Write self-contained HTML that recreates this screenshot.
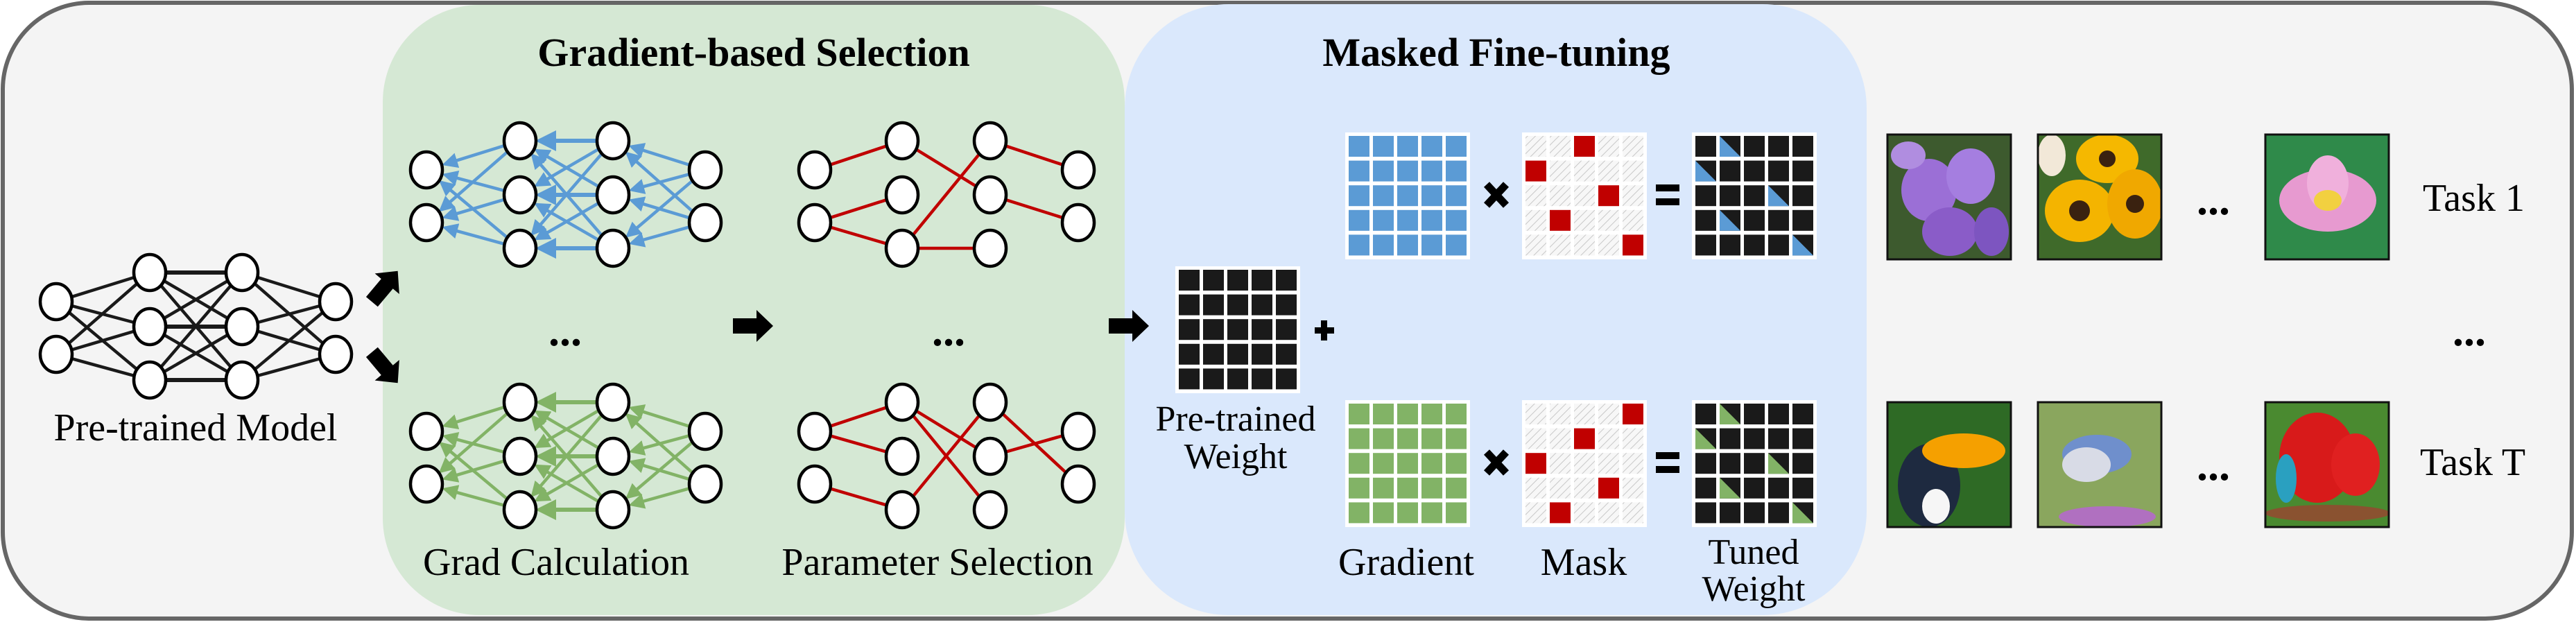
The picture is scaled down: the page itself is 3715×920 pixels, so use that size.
<!DOCTYPE html>
<html><head><meta charset="utf-8"><style>
html,body{margin:0;padding:0;background:#fff}
svg{display:block}
svg text{font-family:"Liberation Serif","Noto Serif CJK SC","DejaVu Serif",serif;fill:#000}
</style></head><body>
<svg id="s" width="3715" height="920" viewBox="0 0 3715 920" xmlns="http://www.w3.org/2000/svg">
<defs>
<pattern id="hatch" width="8" height="8" patternUnits="userSpaceOnUse" patternTransform="rotate(45)">
<rect width="8" height="8" fill="#f7f7f7"/><line x1="0" y1="0" x2="0" y2="8" stroke="#c8c8c8" stroke-width="2"/></pattern>
<marker id="ab" markerWidth="5" markerHeight="5" refX="4" refY="2.5" orient="auto" markerUnits="strokeWidth"><path d="M0,0 L5,2.5 L0,5 z" fill="#5B9BD5"/></marker>
<marker id="ag" markerWidth="5" markerHeight="5" refX="4" refY="2.5" orient="auto" markerUnits="strokeWidth"><path d="M0,0 L5,2.5 L0,5 z" fill="#82B366"/></marker>
</defs>
<rect x="4" y="4" width="3705" height="888" rx="125" fill="#F4F4F4" stroke="#666" stroke-width="6"/>
<rect x="552" y="7" width="1070" height="880" rx="140" fill="#D5E8D4"/>
<rect x="1622" y="6" width="1070" height="881" rx="150" fill="#DAE8FC"/>
<g id="g"></g>
<g>
<text x="1087" y="95" font-size="58" font-weight="bold" text-anchor="middle">Gradient-based Selection</text>
<text x="2158" y="95" font-size="58" font-weight="bold" text-anchor="middle">Masked Fine-tuning</text>
<text x="282" y="635" font-size="56" text-anchor="middle">Pre-trained Model</text>
<text x="802" y="829" font-size="56" text-anchor="middle">Grad Calculation</text>
<text x="1352" y="829" font-size="56" text-anchor="middle">Parameter Selection</text>
<text x="1782" y="621" font-size="52" text-anchor="middle">Pre-trained</text>
<text x="1782" y="675" font-size="52" text-anchor="middle">Weight</text>
<text x="2028" y="829" font-size="56" text-anchor="middle">Gradient</text>
<text x="2284" y="829" font-size="56" text-anchor="middle">Mask</text>
<text x="2529" y="813" font-size="52" text-anchor="middle">Tuned</text>
<text x="2529" y="866" font-size="52" text-anchor="middle">Weight</text>
<text x="3494" y="304" font-size="56">Task 1</text>
<text x="3490" y="685" font-size="56">Task T</text>
<text x="815" y="498" font-size="64" font-weight="bold" text-anchor="middle">...</text>
<text x="1368" y="498" font-size="64" font-weight="bold" text-anchor="middle">...</text>
<text x="3192" y="309" font-size="64" font-weight="bold" text-anchor="middle">...</text>
<text x="3192" y="692" font-size="64" font-weight="bold" text-anchor="middle">...</text>
<text x="3561" y="498" font-size="64" font-weight="bold" text-anchor="middle">...</text>
</g>
</svg>
<script>
var NS="http://www.w3.org/2000/svg",G=document.getElementById("g");
function el(t,a){var e=document.createElementNS(NS,t);for(var k in a)e.setAttribute(k,a[k]);G.appendChild(e);return e;}
function net(xs,yt,type,edges){
 var r1=[yt+42,yt+118],r2=[yt,yt+78,yt+155];
 var L=[r1,r2,r2,r1];
 var nodes=L.map(function(rows,i){return rows.map(function(y){return[xs[i],y];});});
 var col={b:"#5B9BD5",g:"#82B366",k:"#1a1a1a",r:"#C00000"}[type];
 if(type=="r"){edges.forEach(function(e){var a=nodes[e[0]][e[1]],b=nodes[e[0]+1][e[2]];el("line",{x1:a[0],y1:a[1],x2:b[0],y2:b[1],stroke:col,"stroke-width":4.5});});}
 else{for(var i=0;i<3;i++)nodes[i].forEach(function(a){nodes[i+1].forEach(function(b){
  if(type=="k"){el("line",{x1:a[0],y1:a[1],x2:b[0],y2:b[1],stroke:col,"stroke-width":(a[1]==b[1]?6:4.5)});}
  else{var dx=a[0]-b[0],dy=a[1]-b[1],d=Math.sqrt(dx*dx+dy*dy),ux=dx/d,uy=dy/d;
   el("line",{x1:b[0]+ux*24,y1:b[1]+uy*24,x2:a[0]-ux*28,y2:a[1]-uy*28,stroke:col,"stroke-width":(a[1]==b[1]?6:4.5),"marker-end":"url(#a"+type+")"});}
 });});}
 nodes.forEach(function(c){c.forEach(function(p){el("ellipse",{cx:p[0],cy:p[1],rx:23,ry:26,fill:"#fff",stroke:"#000","stroke-width":4.5});});});
}
net([81,216,349,484],393,"k");
net([615,750,884,1017],203,"b");
net([615,750,884,1017],580,"g");
net([1175,1301,1428,1555],203,"r",[[0,0,0],[0,1,1],[0,1,2],[1,0,1],[1,2,0],[1,2,2],[2,0,0],[2,1,1]]);
net([1175,1301,1428,1555],580,"r",[[0,0,0],[0,0,1],[0,1,2],[1,0,1],[1,0,2],[1,2,0],[2,0,1],[2,1,0]]);
function arrow(cx,cy,rot){var g=el("g",{transform:"translate("+cx+","+cy+") rotate("+rot+")"});
 var p=document.createElementNS(NS,"polygon");p.setAttribute("points","-29,-11 5,-11 5,-23 29,0 5,23 5,11 -29,11");p.setAttribute("fill","#000");g.appendChild(p);}
arrow(1086,470,0);arrow(1628,470,0);arrow(555,413,-50);arrow(555,530,50);
function x(cx,cy){el("path",{d:"M"+(cx-14)+","+(cy-15)+" L"+(cx+14)+","+(cy+15)+" M"+(cx+14)+","+(cy-15)+" L"+(cx-14)+","+(cy+15),stroke:"#000","stroke-width":11});}
function eq(cx,cy){el("rect",{x:cx-17,y:cy-15,width:34,height:10,fill:"#000"});el("rect",{x:cx-17,y:cy+5,width:34,height:10,fill:"#000"});}
x(2158,281);x(2158,667);eq(2405,281);eq(2405,667);
el("rect",{x:1896,y:472,width:28,height:9,fill:"#000"});el("rect",{x:1905,y:462,width:9,height:29,fill:"#000"});
function grid(x,y,fill,marks,tri){
 el("rect",{x:x,y:y,width:180,height:183,fill:"#fff"});
 for(var r=0;r<5;r++)for(var c=0;c<5;c++){var cx=x+5+c*35,cy=y+5+r*35.6,f=fill;
  var m=marks&&marks.some(function(q){return q[0]==r&&q[1]==c;});
  if(fill=="mask")f=m?"#C00000":"url(#hatch)";
  el("rect",{x:cx,y:cy,width:30,height:30,fill:f});
  if(tri&&m)el("polygon",{points:cx+","+cy+" "+(cx+30)+","+(cy+30)+" "+cx+","+(cy+30),fill:tri});
 }}
var T=[[0,1],[1,0],[2,3],[3,1],[4,4]];
grid(1695,384,"#1a1a1a");
grid(1940,191,"#5B9BD5");grid(2195,191,"mask",[[0,2],[1,0],[2,3],[3,1],[4,4]]);grid(2440,191,"#1a1a1a",T,"#5B9BD5");
grid(1940,577,"#82B366");grid(2195,577,"mask",[[0,4],[1,2],[2,0],[3,3],[4,1]]);grid(2440,577,"#1a1a1a",T,"#82B366");
function img(x,y,bg,blobs){var id="cp"+x+"_"+y;
 var cp=el("clipPath",{id:id});var rr=document.createElementNS(NS,"rect");rr.setAttribute("x",x);rr.setAttribute("y",y);rr.setAttribute("width",178);rr.setAttribute("height",180);cp.appendChild(rr);
 var g=el("g",{"clip-path":"url(#"+id+")"});
 var b=document.createElementNS(NS,"rect");b.setAttribute("x",x);b.setAttribute("y",y);b.setAttribute("width",178);b.setAttribute("height",180);b.setAttribute("fill",bg);g.appendChild(b);
 blobs.forEach(function(q){var e=document.createElementNS(NS,"ellipse");e.setAttribute("cx",x+q[0]);e.setAttribute("cy",y+q[1]);e.setAttribute("rx",q[2]);e.setAttribute("ry",q[3]);e.setAttribute("fill",q[4]);g.appendChild(e);});
 el("rect",{x:x,y:y,width:178,height:180,fill:"none",stroke:"#111","stroke-width":3});}
img(2722,194,"#3d5a2e",[[60,80,40,45,"#9b6fd6"],[120,60,35,40,"#a57ee0"],[90,140,40,35,"#8a5cc8"],[30,30,25,20,"#b08de0"],[150,140,25,35,"#7d55c0"]]);
img(2939,194,"#3f6a2a",[[100,35,45,35,"#f5b800"],[60,110,50,45,"#f4b400"],[140,100,40,50,"#f0a800"],[100,35,12,12,"#3a2210"],[60,110,15,15,"#3a2210"],[140,100,13,13,"#3a2210"],[20,30,20,30,"#f2e8d8"]]);
img(3267,194,"#2f8a4a",[[90,95,70,45,"#e79ad0"],[90,70,30,40,"#f0b0dc"],[90,95,20,15,"#f2d040"]]);
img(2722,580,"#2e6a25",[[60,120,45,60,"#1e2a40"],[110,70,60,25,"#f5a000"],[70,150,20,25,"#f6f6f6"]]);
img(2939,580,"#8aa65e",[[85,75,50,28,"#6f8fcc"],[70,90,35,25,"#d8dbe6"],[100,165,70,15,"#b070c0"]]);
img(3267,580,"#4a8a30",[[75,80,55,65,"#d81a1a"],[130,90,35,45,"#e02020"],[90,160,90,12,"#8a5230"],[30,110,15,35,"#2aa0c0"]]);
</script>
</body></html>
